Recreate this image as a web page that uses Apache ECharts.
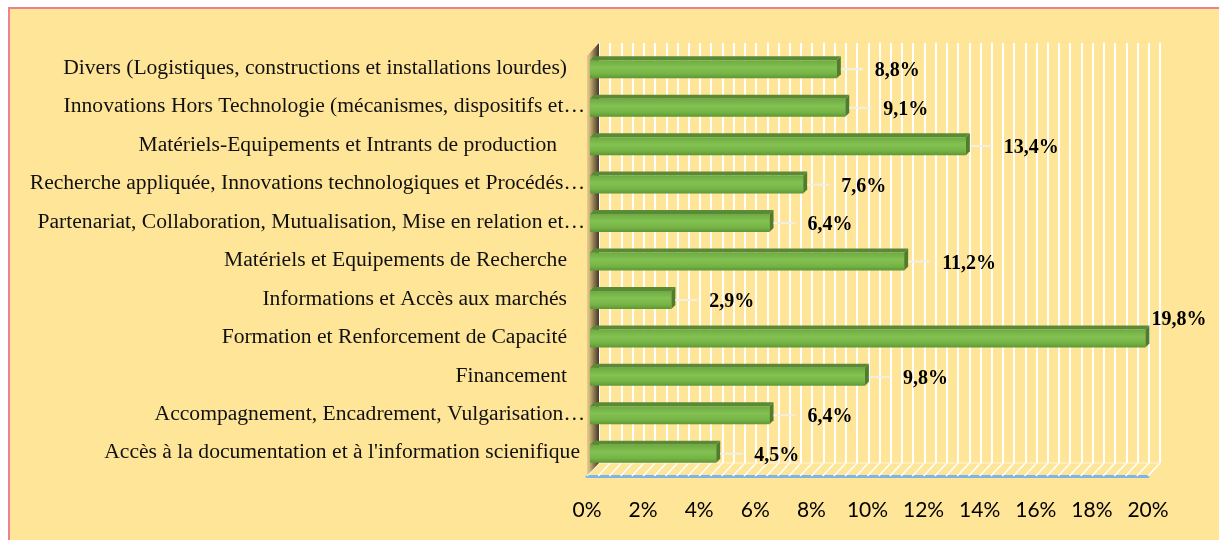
<!DOCTYPE html>
<html><head><meta charset="utf-8">
<script src="https://cdn.jsdelivr.net/npm/echarts@6/dist/echarts.min.js"></script>
<style>
html,body{margin:0;padding:0;background:#fff;width:1219px;height:540px;overflow:hidden;}
#panel{position:absolute;left:8px;top:7px;width:1211px;height:533px;background:#FFE598;border-left:2px solid #F0808F;border-top:2px solid #F0808F;box-sizing:border-box;}
#c{position:absolute;left:0;top:0;width:1219px;height:540px;}
</style>
</head><body><div id="panel"></div><div id="c"></div>
<script>
// ---- data (top to bottom as displayed) ----
const categories = [
  "Divers (Logistiques, constructions et installations lourdes)",
  "Innovations Hors Technologie (mécanismes, dispositifs et…",
  "Matériels-Equipements et Intrants de production",
  "Recherche appliquée, Innovations technologiques et Procédés…",
  "Partenariat, Collaboration, Mutualisation, Mise en relation et…",
  "Matériels et Equipements de Recherche",
  "Informations et Accès aux marchés",
  "Formation et Renforcement de Capacité",
  "Financement",
  "Accompagnement, Encadrement, Vulgarisation…",
  "Accès à la documentation et à l'information scienifique"
];
const values = [8.8, 9.1, 13.4, 7.6, 6.4, 11.2, 2.9, 19.8, 9.8, 6.4, 4.5];
const xTickValues = [0, 2, 4, 6, 8, 10, 12, 14, 16, 18, 20];

const fmtPct = v => v.toFixed(1).replace('.', ',') + '%';

const chart = echarts.init(document.getElementById('c'), null, {renderer: 'canvas'});
const W = 1219, H = 540;
const depthX = 12, depthY = 13;
const frontGrid = {left: 587, right: W - 1148, top: 49, bottom: H - 472};
const backGrid = {left: 587 + depthX, right: W - 1148 - depthX, top: 43, bottom: H - 463};

function padFor(label) {
  if (label.endsWith('…')) return 'p0';
  if (label.indexOf('Intrants') >= 0) return 'p28';
  if (label.indexOf('documentation') >= 0) return 'p5';
  return 'p18';
}
const labelFont = {fontFamily: '"Liberation Serif", serif', fontSize: 21.6, color: '#111'};

const option = {
  animation: false,
  backgroundColor: 'transparent',
  grid: [
    Object.assign({containLabel: false}, frontGrid),
    Object.assign({containLabel: false}, backGrid)
  ],
  xAxis: [
    {
      type: 'value', gridIndex: 0, min: xTickValues[0], max: xTickValues[xTickValues.length - 1],
      interval: xTickValues[1] - xTickValues[0], offset: 4,
      axisLine: {show: true, lineStyle: {color: '#7DB5EA', width: 3}},
      axisTick: {show: false},
      splitLine: {show: false},
      axisLabel: {margin: 24, fontFamily: 'Lato, sans-serif', fontSize: 21, color: '#000',
        formatter: v => v + '%'}
    },
    {
      type: 'value', gridIndex: 1, min: xTickValues[0], max: xTickValues[xTickValues.length - 1],
      interval: xTickValues[1] - xTickValues[0],
      axisLine: {show: false}, axisTick: {show: false}, axisLabel: {show: false},
      splitLine: {show: true, lineStyle: {color: '#FFFFFF', width: 2}},
      minorTick: {show: false, splitNumber: 5},
      minorSplitLine: {show: true, lineStyle: {color: '#FFFFFF', width: 2}}
    }
  ],
  yAxis: [
    {
      type: 'category', gridIndex: 0, data: categories, inverse: true,
      axisLine: {show: false}, axisTick: {show: false}, splitLine: {show: false},
      axisLabel: {
        margin: 2, interval: 0, color: '#111', fontFamily: labelFont.fontFamily, fontSize: labelFont.fontSize,
        formatter: v => '{' + padFor(v) + '|' + v + '}',
        rich: {
          p0: Object.assign({padding: [0, 0, 0, 0]}, labelFont),
          p5: Object.assign({padding: [0, 5, 0, 0]}, labelFont),
          p18: Object.assign({padding: [0, 18, 0, 0]}, labelFont),
          p28: Object.assign({padding: [0, 28, 0, 0]}, labelFont)
        }
      }
    },
    {
      type: 'value', gridIndex: 1, min: 0, max: 1, show: false, splitLine: {show: false}
    }
  ],
  series: [{
    type: 'custom',
    xAxisIndex: 0, yAxisIndex: 0,
    z: 5,
    data: values.map((v, i) => [v, i]),
    encode: {x: 0, y: 1},
    renderItem: function (params, api) {
      const v = api.value(0), idx = api.value(1);
      const p0 = api.coord([0, idx]);
      const p1 = api.coord([v, idx]);
      const h = 18, d = 4;
      const x0 = p0[0] + 3, x1 = p1[0] + 3;
      const y = p0[1] - h / 2 + 1;
      const children = [];
      children.push({type: 'polygon', shape: {points: [[x0, y], [x0 + d, y - d], [x1 + d, y - d], [x1, y]]},
        style: {fill: '#5A8A37'}});
      children.push({type: 'rect', shape: {x: x0, y: y, width: x1 - x0, height: h},
        style: {fill: new echarts.graphic.LinearGradient(0, 0, 0, 1, [
          {offset: 0, color: '#6DAA40'}, {offset: 0.4, color: '#83C153'},
          {offset: 0.75, color: '#76B446'}, {offset: 1, color: '#5D9734'}])}});
      children.push({type: 'polygon', shape: {points: [[x1, y], [x1 + d, y - d], [x1 + d, y + h - d], [x1, y + h]]},
        style: {fill: '#4E7D2C'}});
      const cy = y + h / 2;
      const text = fmtPct(v);
      const font = 'bold 20px "Liberation Serif", serif';
      const lx = x1 + d + 34;
      if (lx + 55 > W - 4) {
        children.push({type: 'text', style: {text: text, x: x1 + d + 2, y: cy - 19, font: font, fill: '#000',
          align: 'left', verticalAlign: 'middle'}});
      } else {
        children.push({type: 'line', shape: {x1: x1 + d, y1: cy, x2: x1 + d + 22, y2: cy},
          style: {stroke: '#F2F0E6', lineWidth: 2}});
        children.push({type: 'text', style: {text: text, x: lx, y: cy + 2, font: font, fill: '#000',
          align: 'left', verticalAlign: 'middle'}});
      }
      return {type: 'group', children: children};
    }
  }]
};
chart.setOption(option);

// ---- decorative 3D wall and floor, positioned from the axes ----
function decorate() {
  const g = [];
  const bx0 = chart.convertToPixel({xAxisIndex: 1}, 0);
  const topY = backGrid.top, floorY = H - backGrid.bottom;
  for (let k = 0; k <= 50; k++) {
    const xb = chart.convertToPixel({xAxisIndex: 1}, k * 0.4);
    g.push({type: 'line', z: 1, shape: {x1: xb, y1: floorY, x2: xb - depthX, y2: floorY + depthY},
      style: {stroke: '#FFFFFF', lineWidth: 1.5}});
  }
  g.push({type: 'line', z: 1, shape: {x1: bx0, y1: floorY, x2: chart.convertToPixel({xAxisIndex: 1}, 20), y2: floorY},
    style: {stroke: '#FFF6DC', lineWidth: 1}});
  g.push({type: 'polygon', z: 2,
    shape: {points: [[bx0, topY], [bx0, floorY], [bx0 - depthX, floorY + depthY], [bx0 - depthX, topY + depthY]]},
    style: {fill: new echarts.graphic.LinearGradient(0, 0, 1, 0, [
      {offset: 0, color: 'rgba(190,165,110,0.35)'}, {offset: 0.5, color: '#9A845A'}, {offset: 1, color: '#45381F'}])}});
  chart.setOption({graphic: g});
}
decorate();
</script>
</body></html>
